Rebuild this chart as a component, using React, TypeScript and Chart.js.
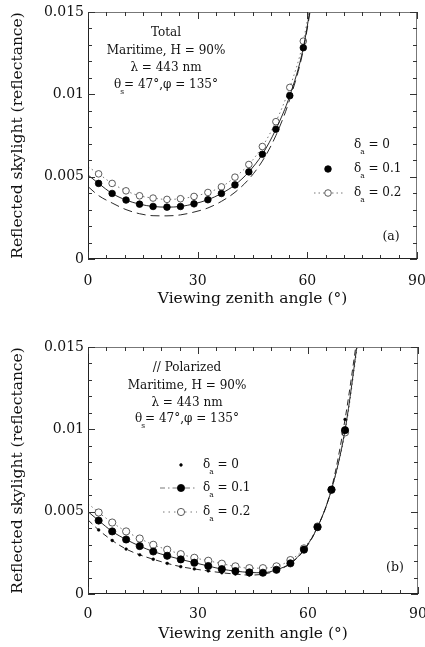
import React, { useEffect, useRef } from "react";
import { Chart, registerables } from "chart.js";

Chart.register(...registerables);

const SERIF = '"DejaVu Serif", "Liberation Serif", serif';

// Viewing zenith angles (deg). First entry (0) is where the computed curves start;
// last entry lies beyond the top of the frame (curve continues off-chart).
const ANGLES_A = [0, 2.9, 6.6, 10.4, 14.1, 17.8, 21.6, 25.3, 29.0, 32.8, 36.5, 40.2, 44.0, 47.7, 51.4, 55.2, 58.9, 62.6];
const ANGLES_B = [0, 2.9, 6.6, 10.4, 14.1, 17.8, 21.6, 25.3, 29.0, 32.8, 36.5, 40.2, 44.0, 47.7, 51.4, 55.2, 58.9, 62.6, 66.4, 70.1, 73.8];

// (a) Total reflected skylight
const TOTAL_D0 = [0.0044, 0.00385, 0.0034, 0.003, 0.00275, 0.00263, 0.00262, 0.00268, 0.00285, 0.0031, 0.0035, 0.00405, 0.00485, 0.00595, 0.0075, 0.0097, 0.0127, 0.0176];
const TOTAL_D01 = [0.0051, 0.00459, 0.00398, 0.00358, 0.00333, 0.00319, 0.00315, 0.00319, 0.00335, 0.0036, 0.00398, 0.0045, 0.00529, 0.00636, 0.00788, 0.00992, 0.01283, 0.0178];
const TOTAL_D02 = [0.0056, 0.00517, 0.00459, 0.00414, 0.00384, 0.0037, 0.00362, 0.00366, 0.0038, 0.00404, 0.00438, 0.00497, 0.00574, 0.00683, 0.00834, 0.01042, 0.01323, 0.018];

// (b) Parallel-polarized reflected skylight
const POL_D0 = [0.0045, 0.00389, 0.00325, 0.00273, 0.00238, 0.00211, 0.00186, 0.00166, 0.00152, 0.0014, 0.00129, 0.00121, 0.00115, 0.0012, 0.00142, 0.00185, 0.00265, 0.00405, 0.0064, 0.0106, 0.0162];
const POL_D01 = [0.005, 0.00446, 0.0038, 0.00331, 0.00291, 0.00258, 0.00232, 0.0021, 0.0019, 0.0017, 0.00151, 0.00139, 0.00131, 0.00129, 0.00147, 0.00186, 0.00269, 0.00406, 0.00634, 0.00995, 0.0158];
const POL_D02 = [0.0055, 0.00495, 0.00434, 0.0038, 0.00337, 0.00299, 0.00269, 0.00242, 0.0022, 0.00202, 0.00184, 0.00168, 0.00157, 0.00157, 0.00168, 0.00206, 0.00277, 0.0041, 0.00632, 0.00981, 0.0156];

const X_TICKS = [0, 30, 60, 90];
const Y_TICKS = [0, 0.005, 0.01, 0.015];
const LEGEND_LABELS = ["0", "0.1", "0.2"];
const X_TITLE = "Viewing zenith angle (°)";
const Y_TITLE = "Reflected skylight (reflectance)";

type Seg = { t: string; sub?: boolean; dx?: number };

const NOTES_A: Seg[][] = [
  [{ t: "Total" }],
  [{ t: "Maritime, H = 90%" }],
  [{ t: "λ = 443 nm" }],
  [{ t: "θ" }, { t: "s", sub: true, dx: -1 }, { t: "= 47°,φ = 135°" }],
];
const NOTES_B: Seg[][] = [
  [{ t: "// Polarized" }],
  [{ t: "Maritime, H = 90%" }],
  [{ t: "λ = 443 nm" }],
  [{ t: "θ" }, { t: "s", sub: true, dx: -1 }, { t: "= 47°,φ = 135°" }],
];

const font = (px: number) => `${px}px ${SERIF}`;

function drawRich(ctx: CanvasRenderingContext2D, segs: Seg[], x: number, y: number, size: number, align: "center" | "left") {
  const subSize = size * 0.62;
  let w = 0;
  for (const s of segs) {
    ctx.font = font(s.sub ? subSize : size);
    w += ctx.measureText(s.t).width + (s.dx || 0);
  }
  let cx = align === "center" ? x - w / 2 : x;
  ctx.textAlign = "left";
  ctx.textBaseline = "middle";
  for (const s of segs) {
    ctx.font = font(s.sub ? subSize : size);
    cx += s.dx || 0;
    ctx.fillText(s.t, cx, s.sub ? y + size * 0.55 : y);
    cx += ctx.measureText(s.t).width;
  }
}

interface PanelCfg {
  xs: number[];
  d0: number[];
  d01: number[];
  d02: number[];
  variant: "a" | "b";
  height: number;
  padTop: number;
  padRight: number;
  xAxisH: number;
  xTickPad: number;
  xTitlePad: number;
  notes: Seg[][];
  notesX: number;
  notesY: number[];
  legendX: number;
  markerX: number;
  legendY: number[];
  label: string;
  labelX: number;
  labelY: number;
}

function circle(ctx: CanvasRenderingContext2D, x: number, y: number, r: number, fill: string, stroke: string, lw: number) {
  ctx.beginPath();
  ctx.arc(x, y, r, 0, Math.PI * 2);
  ctx.fillStyle = fill;
  ctx.fill();
  ctx.lineWidth = lw;
  ctx.strokeStyle = stroke;
  ctx.stroke();
}

function makeDecor(cfg: PanelCfg) {
  return {
    id: "decor" + cfg.variant,
    afterDraw(chart: any) {
      const ctx: CanvasRenderingContext2D = chart.ctx;
      const a = chart.chartArea;
      const xs = chart.scales.x;
      const ys = chart.scales.y;
      ctx.save();
      // frame
      ctx.lineWidth = 1;
      ctx.strokeStyle = "#777";
      ctx.beginPath();
      ctx.moveTo(a.left, a.top + 0.5);
      ctx.lineTo(a.right, a.top + 0.5);
      ctx.moveTo(a.right - 0.5, a.top);
      ctx.lineTo(a.right - 0.5, a.bottom);
      ctx.stroke();
      ctx.strokeStyle = "#222";
      ctx.beginPath();
      ctx.moveTo(a.left + 0.5, a.top);
      ctx.lineTo(a.left + 0.5, a.bottom);
      ctx.moveTo(a.left, a.bottom - 0.5);
      ctx.lineTo(a.right, a.bottom - 0.5);
      ctx.stroke();
      // inward ticks
      ctx.strokeStyle = "#333";
      ctx.beginPath();
      for (let v = 0; v <= 90; v += 5) {
        const px = Math.round(xs.getPixelForValue(v)) + 0.5;
        const len = v % 30 === 0 ? 7 : 4;
        ctx.moveTo(px, a.bottom);
        ctx.lineTo(px, a.bottom - len);
        ctx.moveTo(px, a.top);
        ctx.lineTo(px, a.top + len);
      }
      for (let k = 0; k <= 15; k++) {
        const py = Math.round(ys.getPixelForValue(k * 0.001)) + 0.5;
        const len = k % 5 === 0 ? 7 : 4;
        ctx.moveTo(a.left, py);
        ctx.lineTo(a.left + len, py);
        ctx.moveTo(a.right, py);
        ctx.lineTo(a.right - len, py);
      }
      ctx.stroke();

      // annotation block
      ctx.fillStyle = "#111";
      cfg.notes.forEach((line, i) => drawRich(ctx, line, cfg.notesX, cfg.notesY[i], 12, "center"));

      // legend
      const mx = cfg.markerX;
      const [y0, y1, y2] = cfg.legendY;
      if (cfg.variant === "a") {
        circle(ctx, mx, y1, 3.3, "#000", "#000", 0.8);
        ctx.setLineDash([1.5, 3]);
        ctx.strokeStyle = "#555";
        ctx.lineWidth = 0.8;
        ctx.beginPath();
        ctx.moveTo(mx - 14, y2);
        ctx.lineTo(mx + 16, y2);
        ctx.stroke();
        ctx.setLineDash([]);
        circle(ctx, mx, y2, 3.3, "#fff", "#333", 0.8);
      } else {
        circle(ctx, mx, y0, 1.4, "#000", "#000", 0.5);
        ctx.setLineDash([5, 3, 1.5, 3]);
        ctx.strokeStyle = "#555";
        ctx.lineWidth = 0.8;
        ctx.beginPath();
        ctx.moveTo(mx - 21, y1);
        ctx.lineTo(mx + 16, y1);
        ctx.stroke();
        ctx.setLineDash([1.5, 4]);
        ctx.beginPath();
        ctx.moveTo(mx - 18, y2);
        ctx.lineTo(mx + 16, y2);
        ctx.stroke();
        ctx.setLineDash([]);
        circle(ctx, mx, y1, 3.6, "#000", "#000", 0.8);
        circle(ctx, mx, y2, 3.6, "#fff", "#333", 0.8);
      }
      ctx.fillStyle = "#111";
      cfg.legendY.forEach((ly, i) =>
        drawRich(ctx, [{ t: "δ" }, { t: "a", sub: true, dx: -1 }, { t: " = " + LEGEND_LABELS[i] }], cfg.legendX, ly, 12, "left")
      );

      // panel label
      ctx.font = font(12.5);
      ctx.textAlign = "center";
      ctx.textBaseline = "middle";
      ctx.fillText(cfg.label, cfg.labelX, cfg.labelY);
      ctx.restore();
    },
  };
}

function buildChart(canvas: HTMLCanvasElement, cfg: PanelCfg) {
  const last = cfg.xs.length - 1;
  const pts = (arr: number[]) => cfg.xs.map((x, i) => ({ x, y: arr[i] }));
  const rad = (r: number) => (c: any) => (c.dataIndex === 0 || c.dataIndex === last ? 0 : r);
  const isA = cfg.variant === "a";
  const datasets: any[] = [
    {
      label: "δa = 0",
      data: pts(cfg.d0),
      showLine: true,
      borderColor: "#111",
      borderWidth: 0.9,
      borderDash: isA ? [9, 5] : [6, 4],
      pointRadius: isA ? 0 : rad(1.4),
      pointBackgroundColor: "#000",
      pointBorderColor: "#000",
      pointBorderWidth: 0.5,
      cubicInterpolationMode: "monotone",
    },
    {
      label: "δa = 0.1",
      data: pts(cfg.d01),
      showLine: true,
      borderColor: "#111",
      borderWidth: 0.9,
      pointRadius: rad(isA ? 3.3 : 3.6),
      pointBackgroundColor: "#000",
      pointBorderColor: "#000",
      pointBorderWidth: 0.8,
      cubicInterpolationMode: "monotone",
    },
    {
      label: "δa = 0.2",
      data: pts(cfg.d02),
      showLine: true,
      borderColor: "#555",
      borderWidth: 0.8,
      borderDash: [1.5, 3],
      pointRadius: rad(isA ? 3.3 : 3.6),
      pointBackgroundColor: "#fff",
      pointBorderColor: "#333",
      pointBorderWidth: 0.8,
      cubicInterpolationMode: "monotone",
    },
  ];

  return new Chart(canvas, {
    type: "scatter",
    data: { datasets },
    options: {
      animation: false,
      responsive: false,
      events: [],
      layout: { padding: { top: cfg.padTop, right: cfg.padRight, left: 0, bottom: 0 } },
      plugins: { legend: { display: false }, tooltip: { enabled: false } },
      scales: {
        x: {
          type: "linear",
          min: 0,
          max: 90,
          grid: { display: false, drawTicks: false },
          border: { display: false },
          afterBuildTicks: (s: any) => {
            s.ticks = X_TICKS.map((v) => ({ value: v }));
          },
          afterFit: (s: any) => {
            s.height = cfg.xAxisH;
            s.paddingLeft = 0;
            s.paddingRight = 0;
          },
          ticks: { color: "#111", font: { family: SERIF, size: 14 }, padding: cfg.xTickPad, maxRotation: 0 },
          title: {
            display: true,
            text: X_TITLE,
            color: "#111",
            font: { family: SERIF, size: 15.5 },
            padding: { top: 0, bottom: cfg.xTitlePad },
          },
        },
        y: {
          type: "linear",
          min: 0,
          max: 0.015,
          grid: { display: false, drawTicks: false },
          border: { display: false },
          afterBuildTicks: (s: any) => {
            s.ticks = Y_TICKS.map((v) => ({ value: v }));
          },
          afterFit: (s: any) => {
            s.width = 88;
            s.paddingTop = 0;
            s.paddingBottom = 0;
          },
          ticks: {
            color: "#111",
            font: { family: SERIF, size: 14 },
            padding: 4,
            callback: (v: any) => String(Number(Number(v).toFixed(3))),
          },
          title: {
            display: true,
            text: Y_TITLE,
            color: "#111",
            font: { family: SERIF, size: 15.5 },
            padding: { top: 8.5, bottom: 0 },
          },
        },
      },
    } as any,
    plugins: [makeDecor(cfg)],
  });
}

const PANEL_A: PanelCfg = {
  xs: ANGLES_A,
  d0: TOTAL_D0,
  d01: TOTAL_D01,
  d02: TOTAL_D02,
  variant: "a",
  height: 320,
  padTop: 12,
  padRight: 8,
  xAxisH: 61,
  xTickPad: 14,
  xTitlePad: 12,
  notes: NOTES_A,
  notesX: 166,
  notesY: [33, 51, 68, 85],
  legendX: 354,
  markerX: 328,
  legendY: [145, 169, 193],
  label: "(a)",
  labelX: 391,
  labelY: 237,
};

const PANEL_B: PanelCfg = {
  xs: ANGLES_B,
  d0: POL_D0,
  d01: POL_D01,
  d02: POL_D02,
  variant: "b",
  height: 327,
  padTop: 27,
  padRight: 7,
  xAxisH: 53,
  xTickPad: 12,
  xTitlePad: 4,
  notes: NOTES_B,
  notesX: 187,
  notesY: [48, 66, 83, 99],
  legendX: 203,
  markerX: 181,
  legendY: [145, 168, 192],
  label: "(b)",
  labelX: 395,
  labelY: 248,
};

function Panel({ cfg }: { cfg: PanelCfg }) {
  const ref = useRef<HTMLCanvasElement | null>(null);
  useEffect(() => {
    if (!ref.current) return;
    const chart = buildChart(ref.current, cfg);
    return () => chart.destroy();
  }, [cfg]);
  return <canvas ref={ref} width={425} height={cfg.height} style={{ display: "block", width: 425, height: cfg.height }} />;
}

export default function App() {
  return (
    <div style={{ position: "fixed", left: 0, top: 0, width: 425, height: 647, background: "#fff", overflow: "hidden" }}>
      <Panel cfg={PANEL_A} />
      <Panel cfg={PANEL_B} />
    </div>
  );
}
